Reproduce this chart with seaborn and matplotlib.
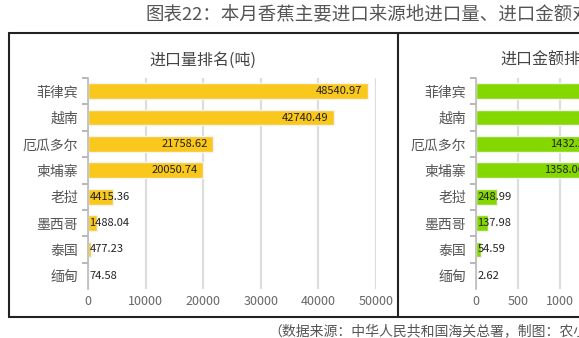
import matplotlib
matplotlib.use("Agg")
import matplotlib.pyplot as plt
import seaborn as sns
import pandas as pd
import numpy as np
from matplotlib.lines import Line2D

sns.set_theme(style="white")
plt.rcParams['font.family'] = ['Noto Sans CJK SC', 'DejaVu Sans']

# ---- data ----
countries = ["菲律宾", "越南", "厄瓜多尔", "柬埔寨", "老挝", "墨西哥", "泰国", "缅甸"]
volume_t = [48540.97, 42740.49, 21758.62, 20050.74, 4415.36, 1488.04, 477.23, 74.58]
value_usd = [3275.36, 2898.41, 1432.27, 1358.06, 248.99, 137.98, 54.59, 2.62]
vol_ticks = [0, 10000, 20000, 30000, 40000, 50000]
val_ticks = [0, 500, 1000, 1500, 2000, 2500, 3000, 3500]

main_title = "图表22：本月香蕉主要进口来源地进口量、进口金额对比"
left_title = "进口量排名(吨)"
right_title = "进口金额排名(万美元)"
source_text = "（数据来源：中华人民共和国海关总署，制图：农小蜂）"

W, H = 579, 338
fig = plt.figure(figsize=(W / 100, H / 100), dpi=100)
fig.patch.set_facecolor("white")

def fx(px):
    return px / W

def fy(py):
    return 1 - py / H

df_l = pd.DataFrame({"country": countries, "v": volume_t})
df_r = pd.DataFrame({"country": countries, "v": value_usd})

top_px, bot_px = 78, 289
ax1 = fig.add_axes([fx(88), fy(bot_px), fx(376 - 88), (bot_px - top_px) / H])
ax2 = fig.add_axes([fx(476), fy(bot_px), fx(294), (bot_px - top_px) / H])

def draw(ax, df, color, ticks, xmax, thresh):
    sns.barplot(data=df, y="country", x="v", orient="h", color=color, ax=ax,
                width=0.6, edgecolor="#f3f3f3", linewidth=1.0, saturation=1)
    ax.set_xlim(0, xmax)
    ax.set_ylim(len(df) - 0.5, -0.5)
    ax.set_xticks(ticks)
    ax.set_xticklabels([str(t) for t in ticks], fontsize=9, color="#666666")
    ax.set_xlabel("")
    ax.set_ylabel("")
    ax.tick_params(axis="y", labelsize=10, labelcolor="#555555", length=0, pad=7)
    ax.tick_params(axis="x", length=0, pad=4)
    ax.set_yticks(np.arange(len(df)) - 0.5, minor=True)
    ax.tick_params(axis="y", which="minor", length=4, color="#aaaaaa", width=1.2, left=True)
    ax.grid(axis="x", color="#dddddd", linewidth=1.6)
    ax.set_axisbelow(True)
    for s in ["top", "right", "bottom"]:
        ax.spines[s].set_visible(False)
    ax.spines["left"].set_color("#bbbbbb")
    ax.spines["left"].set_linewidth(1.2)
    for i, v in enumerate(df["v"]):
        lab = f"{v:.2f}"
        if v / xmax > thresh:
            ax.annotate(lab, (v, i), xytext=(-4, 0), textcoords="offset points",
                        ha="right", va="center", fontsize=8, color="#222222")
        else:
            ax.annotate(lab, (0, i), xytext=(1, 0), textcoords="offset points",
                        ha="left", va="center", fontsize=8, color="#222222")

draw(ax1, df_l, "#FAC81C", vol_ticks, 50000, 0.2)
draw(ax2, df_r, "#84D800", val_ticks, 3500, 0.2)

# panel titles and texts
fig.text(fx(203), fy(60), left_title, ha="center", va="center", fontsize=11.5, color="#444444")
fig.text(fx(500), fy(60), right_title, ha="left", va="center", fontsize=11.5, color="#444444")
fig.text(fx(145), fy(15), main_title, ha="left", va="center", fontsize=13.3, color="#555555")
fig.text(fx(268), fy(331), source_text, ha="left", va="center", fontsize=10, color="#555555")

# frame lines
lc = "#222222"
lw = 1.5
fig.add_artist(Line2D([fx(9), 1.0], [fy(33), fy(33)], color=lc, lw=lw))
fig.add_artist(Line2D([fx(9), 1.0], [fy(317), fy(317)], color=lc, lw=lw))
fig.add_artist(Line2D([fx(9), fx(9)], [fy(33), fy(317)], color=lc, lw=lw))
fig.add_artist(Line2D([fx(398), fx(398)], [fy(33), fy(317)], color=lc, lw=lw))

fig.savefig("out.png", dpi=100)
